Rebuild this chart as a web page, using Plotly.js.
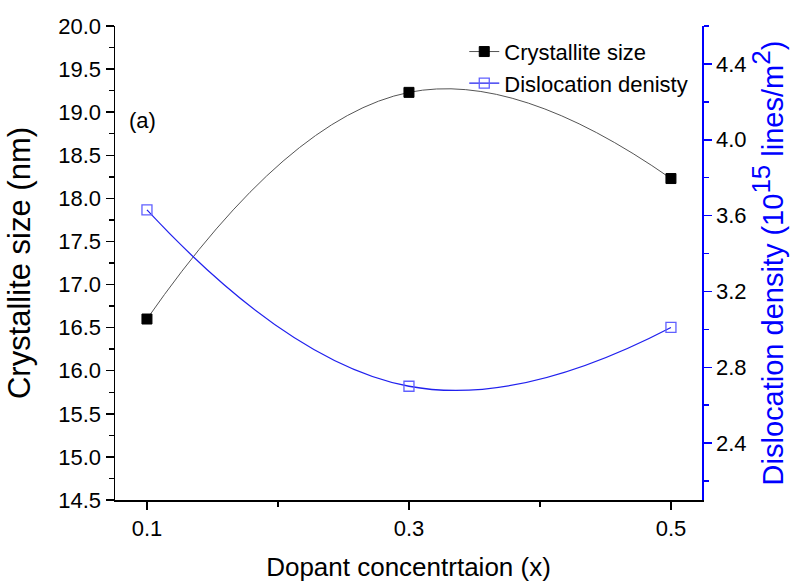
<!DOCTYPE html>
<html><head><meta charset="utf-8">
<script src="https://cdn.plot.ly/plotly-3.0.1.min.js"></script>
<style>body{margin:0;background:#fff}#c{width:796px;height:583px}</style>
</head><body><div id="c"></div>
<script>
const dopant = [0.1, 0.3, 0.5];
const crystalliteSize = [16.6, 19.23, 18.23];
const dislocationDensity = [3.63, 2.70, 3.01];
const xTickVals = [0.1, 0.3, 0.5];
const xTickText = ['0.1', '0.3', '0.5'];

const FONT = 'Liberation Sans, Arial, sans-serif';
const traces = [
  {x: dopant, y: crystalliteSize, name: 'Crystallite size', type: 'scatter', mode: 'lines+markers',
   line: {color: '#555', width: 1, shape: 'spline', smoothing: 1.3},
   marker: {symbol: 'square', size: 10, color: '#000', line: {color: '#000', width: 1}},
   xaxis: 'x', yaxis: 'y'},
  {x: dopant, y: dislocationDensity, name: 'Dislocation denisty', type: 'scatter', mode: 'lines+markers',
   line: {color: '#2020ee', width: 1.3, shape: 'spline', smoothing: 1.3},
   marker: {symbol: 'square-open', size: 10, color: '#6060ff', line: {width: 1.3}},
   xaxis: 'x', yaxis: 'y2'}
];
const layout = {
  width: 796, height: 583,
  margin: {l: 115, r: 94, t: 26, b: 83},
  paper_bgcolor: '#fff', plot_bgcolor: '#fff',
  font: {family: FONT, size: 22, color: '#000'},
  showlegend: true,
  legend: {x: 0.595, y: 0.99, xanchor: 'left', yanchor: 'top', bgcolor: 'rgba(0,0,0,0)',
           font: {family: FONT, size: 22}, tracegroupgap: 0},
  xaxis: {range: [0.0756, 0.5237], tickvals: xTickVals, ticktext: xTickText,
          ticks: 'outside', ticklen: 8, tickwidth: 1.5, tickcolor: '#000',
          minor: {dtick: 0.1, tick0: 0.1, ticks: 'outside', ticklen: 5, tickwidth: 1.5, tickcolor: '#000'},
          showline: true, linecolor: '#000', linewidth: 1.5, showgrid: false, zeroline: false,
          tickfont: {size: 22, family: FONT},
          title: {text: 'Dopant concentrtaion (x)', font: {size: 26, family: FONT}, standoff: 18}},
  xaxis2: {range: [0.0756, 0.5237], overlaying: 'x', side: 'top', tickvals: xTickVals,
           ticks: 'inside', ticklen: 8, tickwidth: 1.5, tickcolor: '#000', showticklabels: false,
           minor: {dtick: 0.1, tick0: 0.1, ticks: 'inside', ticklen: 5, tickwidth: 1.5, tickcolor: '#000'},
           showline: true, linecolor: '#000', linewidth: 1.5, showgrid: false, zeroline: false},
  yaxis: {range: [14.5, 20.0], dtick: 0.5, tick0: 14.5, tickformat: '.1f',
          ticks: 'outside', ticklen: 8, tickwidth: 1.5, tickcolor: '#000',
          minor: {dtick: 0.25, ticks: 'outside', ticklen: 5, tickwidth: 1.5, tickcolor: '#000'},
          showline: true, linecolor: '#000', linewidth: 1.5, showgrid: false, zeroline: false,
          tickfont: {size: 22, family: FONT},
          title: {text: 'Crystallite size (nm)', font: {size: 31, family: FONT}, standoff: 18}},
  yaxis2: {range: [2.1, 4.6], overlaying: 'y', side: 'right', tickvals: [2.4, 2.8, 3.2, 3.6, 4.0, 4.4],
           tickformat: '.1f',
           ticks: 'outside', ticklen: 8, tickwidth: 1.5, tickcolor: '#0000ff',
           minor: {dtick: 0.2, tick0: 2.2, ticks: 'outside', ticklen: 5, tickwidth: 1.5, tickcolor: '#0000ff'},
           showline: true, linecolor: '#0000ff', linewidth: 1.5, showgrid: false, zeroline: false,
           tickfont: {size: 22, family: FONT, color: '#000'},
           title: {text: 'Dislocation density (10<sup><span style="font-size:26px">15</span></sup> lines/m<sup><span style="font-size:26px">2</span></sup>)', font: {size: 29, family: FONT, color: '#0000ff'}, standoff: 8}},
  annotations: [{text: '(a)', xref: 'paper', yref: 'paper', x: 0.02, y: 0.80, xanchor: 'left', yanchor: 'middle',
                 showarrow: false, font: {size: 22, family: FONT}}]
};
Plotly.newPlot('c', traces, layout, {displayModeBar: false, staticPlot: true});
</script></body></html>
